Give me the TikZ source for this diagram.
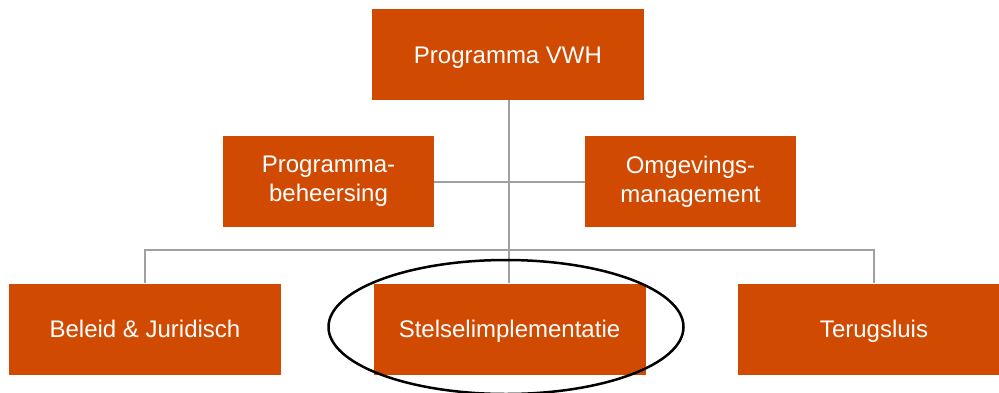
\documentclass[tikz,border=0pt]{standalone}
\usepackage{fontspec}
\setmainfont{Liberation Sans}
\usepackage{tikz}
\usetikzlibrary{positioning}
\definecolor{vwhorange}{HTML}{D04A02}
\definecolor{linegray}{HTML}{A0A0A0}

\tikzset{
  box/.style={fill=vwhorange, text=white, align=center, inner sep=0pt,
    minimum height=91pt, font=\fontsize{24}{29}\selectfont},
  unit/.style={box, minimum width=272pt, text height=17pt, text depth=0pt},
  staff/.style={box, minimum width=211pt},
  link/.style={draw=linegray, line width=2pt}
}

\begin{document}
\begin{tikzpicture}[x=1pt, y=-1pt]
\useasboundingbox (0,0) rectangle (999,392);
\clip (0,0) rectangle (999,392);

\node[unit] (vwh) at (508,54.5) {Programma VWH};
\node[staff] (beheer) at (328.5,181.5) {Programma-\\beheersing};
\node[staff] (omgeving) at (690.5,181.5) {Omgevings-\\management};
\node[unit] (beleid) at (145,329) {Beleid \& Juridisch};
\node[unit] (stelsel) at (509.5,329) {Stelselimplementatie};
\node[unit] (terug) at (874,329) {Terugsluis};

\coordinate (bar) at (509,250);
\draw[link] (vwh.south -| bar) -- (stelsel.north -| bar);
\draw[link] (beheer.east) -- (omgeving.west);
\draw[link] (beleid.north) |- (bar) -| (terug.north);

\draw[line width=2.5pt] (506,327) ellipse (177.5 and 67);
\end{tikzpicture}
\end{document}
